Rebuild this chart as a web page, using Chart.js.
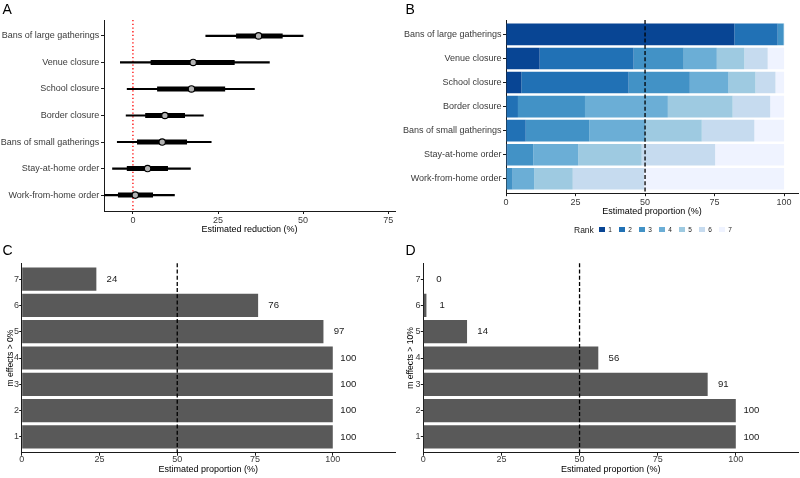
<!DOCTYPE html>
<html>
<head>
<meta charset="utf-8">
<script src="https://cdn.jsdelivr.net/npm/chart.js@4.4.0/dist/chart.umd.min.js"></script>
<style>
  html,body{margin:0;padding:0;background:#fff;}
  body{width:800px;height:478px;position:relative;overflow:hidden;font-family:"Liberation Sans",Arial,Helvetica,sans-serif;}
  .box{position:absolute;}
  .box canvas{display:block;}
  .letter{position:absolute;font-size:14px;line-height:14px;color:#000;}
  #rankLegend{position:absolute;left:574px;top:224px;height:11px;display:flex;align-items:center;color:#1a1a1a;white-space:nowrap;}
  #rankLegend .ttl{font-size:8.5px;margin-right:5.2px;}
  #rankLegend .key{width:5.5px;height:5.5px;display:inline-block;margin-right:3.7px;}
  #rankLegend .lab{font-size:6.5px;margin-right:7.2px;}
</style>
</head>
<body>
<div class="box" style="left:0;top:0;width:400px;height:240px"><canvas id="chartA" width="400" height="240"></canvas></div>
<div class="box" style="left:400px;top:0;width:400px;height:220px"><canvas id="chartB" width="400" height="220"></canvas></div>
<div class="box" style="left:0;top:240px;width:400px;height:238px"><canvas id="chartC" width="400" height="238"></canvas></div>
<div class="box" style="left:400px;top:240px;width:400px;height:238px"><canvas id="chartD" width="400" height="238"></canvas></div>
<div class="letter" style="left:2.5px;top:1.5px">A</div>
<div class="letter" style="left:405.5px;top:1.5px">B</div>
<div class="letter" style="left:2.5px;top:243.2px">C</div>
<div class="letter" style="left:405.5px;top:243.2px">D</div>
<div id="rankLegend"></div>
<script>
// ---------------- data ----------------
const interventions = ['Bans of large gatherings', 'Venue closure', 'School closure', 'Border closure',
  'Bans of small gatherings', 'Stay-at-home order', 'Work-from-home order'];

// Panel A: estimated reduction (%) – median, 50% and 95% intervals
const reductionMedian    = [36.9, 17.7, 17.2,  9.4,  8.6,  4.3,  0.7];
const reductionInnerLow  = [30.4,  5.3,  7.2,  3.7,  1.3, -1.7, -4.3];
const reductionInnerHigh = [43.9, 29.8, 27.0, 15.2, 15.8, 10.2,  5.8];
const reductionOuterLow  = [21.4, -3.7, -1.7, -2.0, -4.6, -6.0, -9.0];
const reductionOuterHigh = [50.0, 40.1, 35.7, 20.7, 23.0, 16.9, 12.2];
const reductionTicks = [0, 25, 50, 75];
const zeroReference = 0;

// Panel B: estimated proportion (%) of each rank
const rankLabels = ['1', '2', '3', '4', '5', '6', '7'];
const rankColors = ['#084594', '#2171b5', '#4292c6', '#6baed6', '#9ecae1', '#c6dbef', '#eff3ff'];
const rank1 = [82.1, 12.1,  5.5,  0.0,  0.0,  0.0,  0.0];
const rank2 = [15.6, 33.8, 38.6,  4.3,  7.1,  0.6,  0.0];
const rank3 = [ 2.1, 18.0, 22.0, 24.1, 22.8,  9.2,  2.4];
const rank4 = [ 0.2, 11.9, 13.9, 29.8, 20.1, 16.2,  7.7];
const rank5 = [ 0.0,  9.9,  9.7, 23.3, 20.4, 22.8, 13.9];
const rank6 = [ 0.0,  8.4,  7.2, 13.5, 18.9, 26.4, 25.6];
const rank7 = [ 0.0,  5.9,  3.1,  5.0, 10.7, 24.8, 50.4];
const proportionTicks = [0, 25, 50, 75, 100];
const halfReference = 50;

// Panels C and D: proportion with at least m effects above threshold
const effectCounts = ['7', '6', '5', '4', '3', '2', '1'];
const propAbove0  = [24, 76, 97, 100, 100, 100, 100];
const propAbove10 = [ 0,  1, 14,  56,  91, 100, 100];

// ---------------- helpers ----------------
const FONT = '"Liberation Sans", Arial, Helvetica, sans-serif';
Chart.defaults.font.family = FONT;
Chart.defaults.animation = false;
Chart.defaults.responsive = false;
const axisColor = '#1a1a1a';
const tickTextColor = '#3a3a3a';

function expandCategory(expand) {
  return s => { s._startValue = -expand; s._valueRange = s.ticks.length - 1 + 2 * expand; };
}
function fixedTicks(values) {
  return s => { s.ticks = values.map(v => ({value: v})); };
}
function pairs(lo, hi) { return lo.map((v, i) => [v, hi[i]]); }

function valueAxis(o) {
  return {
    type: 'linear', min: o.min, max: o.max, stacked: !!o.stacked,
    afterBuildTicks: fixedTicks(o.ticks),
    afterFit: s => { s.height = o.height; },
    grid: {display: true, drawOnChartArea: false, drawTicks: true, tickLength: 3, color: axisColor, tickColor: axisColor, lineWidth: 1},
    border: {display: true, color: axisColor, width: 1},
    ticks: {color: tickTextColor, font: {size: 9}, padding: o.tickPad, maxRotation: 0, autoSkip: false},
    title: {display: true, text: o.title, color: '#000', font: {size: 9}, padding: {top: 0, bottom: o.titlePad}}
  };
}
function categoryAxis(o) {
  const ax = {
    type: 'category', offset: true, stacked: !!o.stacked,
    afterBuildTicks: expandCategory(0.6),
    afterFit: s => { s.width = o.width; },
    grid: {display: true, offset: false, drawOnChartArea: false, drawTicks: true, tickLength: o.tickLength || 3, color: axisColor, tickColor: axisColor, lineWidth: 1},
    border: {display: true, color: axisColor, width: 1},
    ticks: {color: tickTextColor, font: {size: 9}, padding: o.tickPadding, autoSkip: false}
  };
  if (o.title) {
    ax.title = {display: true, text: o.title, color: '#000', font: {size: 8.6}, padding: {top: o.titlePadTop, bottom: 0}};
  }
  return ax;
}

function drawRef(chart, o) {
  const {ctx, chartArea} = chart;
  const x = chart.scales.x.getPixelForValue(o.value);
  ctx.save();
  ctx.strokeStyle = o.color;
  ctx.lineWidth = o.width;
  ctx.setLineDash(o.dash);
  ctx.beginPath();
  ctx.moveTo(x, chartArea.top);
  ctx.lineTo(x, chartArea.bottom);
  ctx.stroke();
  ctx.restore();
}
const refLinePlugin = {
  id: 'refLine',
  beforeDatasetsDraw(chart, args, o) { if (o.below) drawRef(chart, o); },
  afterDatasetsDraw(chart, args, o) { if (!o.below) drawRef(chart, o); }
};
const valueLabelPlugin = {
  id: 'valueLabels',
  afterDatasetsDraw(chart, args, o) {
    const {ctx} = chart;
    const meta = chart.getDatasetMeta(0);
    const values = chart.data.datasets[0].data;
    ctx.save();
    ctx.font = o.size + 'px ' + FONT;
    ctx.fillStyle = o.color;
    ctx.textAlign = 'center';
    ctx.textBaseline = 'middle';
    meta.data.forEach((bar, i) => {
      const v = values[i];
      ctx.fillText(String(v), chart.scales.x.getPixelForValue(v + o.offset), bar.y);
    });
    ctx.restore();
  }
};

// ---------------- Panel A ----------------
new Chart(document.getElementById('chartA'), {
  type: 'bar',
  data: {
    labels: interventions,
    datasets: [
      {label: '95% interval', data: pairs(reductionOuterLow, reductionOuterHigh), backgroundColor: '#000',
       barThickness: 1.5, grouped: false, order: 3, borderWidth: 0},
      {label: '50% interval', data: pairs(reductionInnerLow, reductionInnerHigh), backgroundColor: '#000',
       barThickness: 4.3, grouped: false, order: 2, borderWidth: 0},
      {type: 'line', label: 'Median', data: reductionMedian, showLine: false, pointRadius: 3.2, pointHoverRadius: 3.2,
       pointBackgroundColor: '#b3b3b3', pointBorderColor: '#000', pointBorderWidth: 1.2, order: 1}
    ]
  },
  options: {
    indexAxis: 'y',
    layout: {padding: {top: 20, right: 5, bottom: 0, left: 0}},
    plugins: {
      legend: {display: false}, tooltip: {enabled: false},
      refLine: {value: zeroReference, color: '#ff0000', width: 1.3, dash: [1.3, 2.4], below: true}
    },
    scales: {
      x: valueAxis({min: -8.5, max: 77, ticks: reductionTicks, title: 'Estimated reduction (%)', height: 29, titlePad: 4.6, tickPad: 1}),
      y: categoryAxis({width: 104, tickPadding: 1.7})
    }
  },
  plugins: [refLinePlugin]
});

// ---------------- Panel B ----------------
const rankSeries = [rank1, rank2, rank3, rank4, rank5, rank6, rank7];
new Chart(document.getElementById('chartB'), {
  type: 'bar',
  data: {
    labels: interventions,
    datasets: rankSeries.map((d, i) => ({
      label: rankLabels[i], data: d, backgroundColor: rankColors[i], borderWidth: 0,
      barPercentage: 0.9, categoryPercentage: 1
    }))
  },
  options: {
    indexAxis: 'y',
    layout: {padding: {top: 20, right: 2, bottom: 0, left: 0}},
    plugins: {
      legend: {display: false}, tooltip: {enabled: false},
      refLine: {value: halfReference, color: '#000', width: 1.3, dash: [4, 2.2], below: false}
    },
    scales: {
      x: valueAxis({min: 0, max: 105, ticks: proportionTicks, title: 'Estimated proportion (%)', height: 26.8, titlePad: 2.9, tickPad: 1, stacked: true}),
      y: categoryAxis({width: 106, tickPadding: 1.5, stacked: true})
    }
  },
  plugins: [refLinePlugin]
});

// legend for panel B
document.getElementById('rankLegend').innerHTML = '<span class="ttl">Rank</span>' +
  rankLabels.map((r, i) => '<span class="key" style="background:' + rankColors[i] + '"></span><span class="lab">' + r + '</span>').join('');

// ---------------- Panels C & D ----------------
function effectChart(id, values, title, yWidth, rightPad) {
  new Chart(document.getElementById(id), {
    type: 'bar',
    data: {
      labels: effectCounts,
      datasets: [{label: title, data: values, backgroundColor: '#595959', borderWidth: 0,
                  barPercentage: 0.88, categoryPercentage: 1}]
    },
    options: {
      indexAxis: 'y',
      layout: {padding: {top: 23.3, right: rightPad, bottom: 0, left: 0}},
      plugins: {
        legend: {display: false}, tooltip: {enabled: false},
        refLine: {value: halfReference, color: '#000', width: 1.3, dash: [4, 2.2], below: false},
        valueLabels: {offset: 5, size: 9.6, color: '#1a1a1a'}
      },
      scales: {
        x: valueAxis({min: 0, max: 120, ticks: proportionTicks, title: 'Estimated proportion (%)', height: 25.3, titlePad: 2.6, tickPad: -2}),
        y: categoryAxis({width: yWidth, tickPadding: 0.3, tickLength: 2.5, title: title, titlePadTop: 5.4})
      }
    },
    plugins: [refLinePlugin, valueLabelPlugin]
  });
}
effectChart('chartC', propAbove0, 'm effects > 0%', 21.7, 5);
effectChart('chartD', propAbove10, 'm effects > 10%', 23.3, 1.7);
</script>
</body>
</html>
